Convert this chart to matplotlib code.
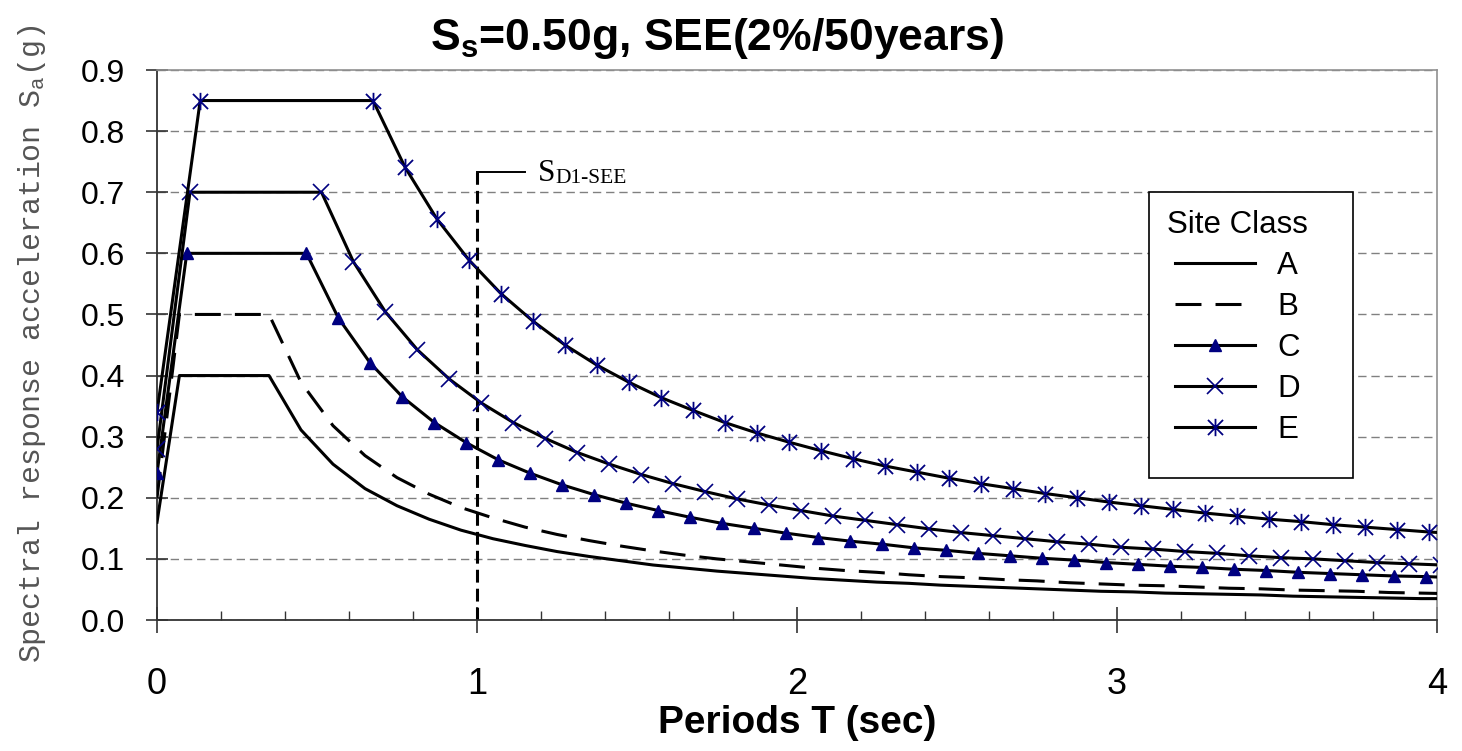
import matplotlib

matplotlib.use("Agg")

import matplotlib.pyplot as plt
from matplotlib.patches import Rectangle
from matplotlib.path import Path
from matplotlib.ticker import MultipleLocator

# design spectra, one list per site class
period_ab = [0.0, 0.07, 0.35, 0.45, 0.55, 0.65, 0.75, 0.85, 0.95, 1.05, 1.15, 1.25,
             1.35, 1.45, 1.55, 1.65, 1.75, 1.85, 1.95, 2.05, 2.15, 2.25,
             2.35, 2.45, 2.55, 2.65, 2.75, 2.85, 2.95, 3.05, 3.15, 3.25,
             3.35, 3.45, 3.55, 3.65, 3.75, 3.85, 3.95, 4.05]
sa_a = [0.160, 0.400, 0.400, 0.311, 0.255, 0.215, 0.187, 0.165, 0.147, 0.133, 0.122, 0.112,
        0.104, 0.097, 0.090, 0.085, 0.080, 0.076, 0.072, 0.068, 0.065, 0.062,
        0.060, 0.057, 0.055, 0.053, 0.051, 0.049, 0.047, 0.046, 0.044, 0.043,
        0.042, 0.041, 0.039, 0.038, 0.037, 0.036, 0.035, 0.035]
sa_b = [0.200, 0.500, 0.500, 0.389, 0.318, 0.269, 0.233, 0.206, 0.184, 0.167, 0.152, 0.140,
        0.130, 0.121, 0.113, 0.106, 0.100, 0.095, 0.090, 0.085, 0.081, 0.078,
        0.074, 0.071, 0.069, 0.066, 0.064, 0.061, 0.059, 0.057, 0.056, 0.054,
        0.052, 0.051, 0.049, 0.048, 0.047, 0.045, 0.044, 0.043]

period_c = [0.0, 0.093, 0.467, 0.567, 0.667, 0.767, 0.867, 0.967, 1.067, 1.167, 1.267, 1.367,
            1.467, 1.567, 1.667, 1.767, 1.867, 1.967, 2.067, 2.167, 2.267, 2.367,
            2.467, 2.567, 2.667, 2.767, 2.867, 2.967, 3.067, 3.167, 3.267, 3.367,
            3.467, 3.567, 3.667, 3.767, 3.867, 3.967, 4.067]
sa_c = [0.240, 0.600, 0.600, 0.494, 0.420, 0.365, 0.323, 0.290, 0.262, 0.240, 0.221, 0.205,
        0.191, 0.179, 0.168, 0.158, 0.150, 0.142, 0.135, 0.129, 0.124, 0.118,
        0.114, 0.109, 0.105, 0.101, 0.098, 0.094, 0.091, 0.088, 0.086, 0.083,
        0.081, 0.078, 0.076, 0.074, 0.072, 0.071, 0.069]

period_d = [0.0, 0.103, 0.514, 0.614, 0.714, 0.814, 0.914, 1.014, 1.114, 1.214, 1.314, 1.414,
            1.514, 1.614, 1.714, 1.814, 1.914, 2.014, 2.114, 2.214, 2.314, 2.414,
            2.514, 2.614, 2.714, 2.814, 2.914, 3.014, 3.114, 3.214, 3.314, 3.414,
            3.514, 3.614, 3.714, 3.814, 3.914, 4.014]
sa_d = [0.280, 0.700, 0.700, 0.586, 0.504, 0.442, 0.394, 0.355, 0.323, 0.297, 0.274, 0.255,
        0.238, 0.223, 0.210, 0.198, 0.188, 0.179, 0.170, 0.163, 0.156, 0.149,
        0.143, 0.138, 0.133, 0.128, 0.124, 0.119, 0.116, 0.112, 0.109, 0.105,
        0.102, 0.100, 0.097, 0.094, 0.092, 0.090]

period_e = [0.0, 0.135, 0.675, 0.775, 0.875, 0.975, 1.075, 1.175, 1.275, 1.375, 1.475, 1.575,
            1.675, 1.775, 1.875, 1.975, 2.075, 2.175, 2.275, 2.375, 2.475, 2.575,
            2.675, 2.775, 2.875, 2.975, 3.075, 3.175, 3.275, 3.375, 3.475, 3.575,
            3.675, 3.775, 3.875, 3.975, 4.075]
sa_e = [0.340, 0.850, 0.850, 0.741, 0.656, 0.589, 0.534, 0.489, 0.450, 0.417, 0.389, 0.364,
        0.343, 0.323, 0.306, 0.291, 0.277, 0.264, 0.252, 0.242, 0.232, 0.223,
        0.215, 0.207, 0.200, 0.193, 0.187, 0.181, 0.175, 0.170, 0.165, 0.161,
        0.156, 0.152, 0.148, 0.144, 0.141]

# S_D1 marker line and its label leader
sd1_period = [1.0, 1.0]
sd1_level = [0.0, 0.733]
leader_period = [1.0, 1.15]
leader_level = [0.733, 0.733]

x_ticks = [0, 1, 2, 3, 4]
y_ticks = [0.0, 0.1, 0.2, 0.3, 0.4, 0.5, 0.6, 0.7, 0.8, 0.9]
y_tick_labels = [f"{v:.1f}" for v in y_ticks]

NAVY = "#000080"
SANS = "Liberation Sans"
W, H = 1462, 751

# Excel-style star: an x with a vertical bar through it
star = Path(
    [(-1, -1), (1, 1), (-1, 1), (1, -1), (0, -1.15), (0, 1.15)],
    [Path.MOVETO, Path.LINETO] * 3,
)

fig = plt.figure(figsize=(W / 100, H / 100), dpi=100)
ax = fig.add_axes([157 / W, 1 - 620 / H, 1280 / W, 550 / H])

ax.plot(period_ab, sa_a, color="black", lw=2.2, label="A", zorder=3)
ax.plot(period_ab, sa_b, color="black", lw=2.2, dashes=(8.5, 4.6), label="B", zorder=3)
ax.plot(period_c, sa_c, color="black", lw=2.2, marker="^", ms=9,
        mfc=NAVY, mec=NAVY, label="C", zorder=3)
ax.plot(period_d, sa_d, color="black", lw=2.2, marker="x", ms=11, mew=1.2,
        mec=NAVY, label="D", zorder=3)
ax.plot(period_e, sa_e, color="black", lw=2.2, marker=star, ms=12.5, mew=1.3,
        mec=NAVY, mfc="none", label="E", zorder=3)

ax.plot(sd1_period, sd1_level, color="black", lw=2.2, dashes=(4.2, 2), zorder=2)
ax.plot(leader_period, leader_level, color="black", lw=1.4, zorder=2)
s_txt = ax.text(1.19, 0.719, "S", family="Liberation Serif", fontsize=22.5,
                va="baseline", ha="left")
ax.annotate("D1-SEE", xy=(1, 0), xycoords=s_txt, xytext=(0.3, 3),
            textcoords="offset points", family="Liberation Serif",
            fontsize=15.5, va="baseline", ha="left")

ax.set_xlim(0, 4)
ax.set_ylim(0, 0.9)
ax.set_xticks(x_ticks)
ax.set_xticklabels([str(t) for t in x_ticks])
ax.xaxis.set_minor_locator(MultipleLocator(0.2))
ax.set_yticks(y_ticks)
ax.set_yticklabels(y_tick_labels)

axis_col = "#333333"
ax.tick_params(axis="x", which="major", direction="inout", length=19, width=1.2,
               color=axis_col, labelsize=26, pad=24)
ax.tick_params(axis="x", which="minor", direction="in", length=6.5, width=1.0,
               color=axis_col)
ax.tick_params(axis="y", which="major", direction="inout", length=16, width=1.2,
               color=axis_col, labelsize=23, pad=15)
for lab in ax.get_xticklabels() + ax.get_yticklabels():
    lab.set_family(SANS)

ax.yaxis.grid(True, color="#808080", lw=1.0, linestyle=(0, (6, 3.5)))
ax.set_axisbelow(True)
for side in ("left", "bottom"):
    ax.spines[side].set_color(axis_col)
    ax.spines[side].set_linewidth(1.3)
for side in ("top", "right"):
    ax.spines[side].set_color("#909090")
    ax.spines[side].set_linewidth(1.2)

# legend box drawn on its own so its size can follow the reference
ax.add_patch(Rectangle((1149 / W, 1 - 478 / H), 204 / W, 286 / H,
                       transform=fig.transFigure, facecolor="white",
                       edgecolor="black", lw=1.2, zorder=4.5, clip_on=False))
leg = ax.legend(
    loc="upper left",
    bbox_to_anchor=(1167 / W, 1 - 210 / H),
    bbox_transform=fig.transFigure,
    borderaxespad=0,
    borderpad=0,
    title="Site Class",
    prop={"family": SANS, "size": 22.5},
    title_fontproperties={"family": SANS, "size": 22.5},
    handlelength=2.55,
    handletextpad=0.7,
    labelspacing=0.35,
    frameon=False,
)
leg.set_zorder(5)

fig.text(717 / W, 1 - 50 / H, r"$\mathregular{S_s}$=0.50g, SEE(2%/50years)",
         family=SANS, weight="bold", fontsize=32,
         ha="center", va="baseline")
fig.text(797 / W, 1 - 723 / H, "Periods T (sec)", family=SANS, weight="bold",
         fontsize=28, ha="center", va="center")
fig.text(32 / W, 1 - 344 / H, r"Spectral response acceleration $\mathregular{S_a}$(g)",
         family="Liberation Mono", fontsize=21.5, color="#555555",
         rotation=90, ha="center", va="center")

fig.savefig("out.png", dpi=100)
plt.close(fig)
